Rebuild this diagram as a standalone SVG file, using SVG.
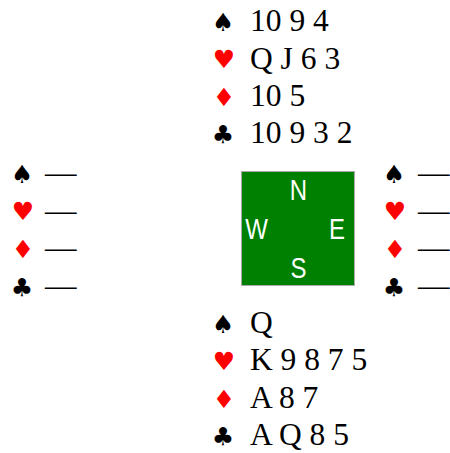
<svg xmlns="http://www.w3.org/2000/svg" width="450" height="453" viewBox="0 0 450 453">
<style>
.c{font-family:"Liberation Serif","Times New Roman",serif;font-size:31.5px;fill:#000}
.s{font-family:"DejaVu Sans",sans-serif;font-size:25px;text-anchor:middle}
.b{fill:#000}.r{fill:#f00}
.d{font-family:"Liberation Sans",Arial,sans-serif;font-size:24px;fill:#fff;text-anchor:middle}
</style>
<rect width="450" height="453" fill="#fff"/>
<g id="north">
<text class="s b" x="223" y="31">♠</text><text class="c" x="250" y="31">10 9 4</text>
<text class="s r" x="224" y="68">♥</text><text class="c" x="250" y="68.5">Q J 6 3</text>
<text class="s r" x="224" y="106">♦</text><text class="c" x="250" y="106">10 5</text>
<text class="s b" x="223" y="143">♣</text><text class="c" x="250" y="143">10 9 3 2</text>
</g>
<g id="west">
<text class="s b" x="22" y="183">♠</text><text class="c" x="45" y="183">—</text>
<text class="s r" x="23" y="220">♥</text><text class="c" x="45" y="221">—</text>
<text class="s r" x="23" y="258">♦</text><text class="c" x="45" y="258">—</text>
<text class="s b" x="22" y="296">♣</text><text class="c" x="45" y="296">—</text>
</g>
<g id="east">
<text class="s b" x="394" y="183">♠</text><text class="c" x="418" y="183">—</text>
<text class="s r" x="395" y="220">♥</text><text class="c" x="418" y="221">—</text>
<text class="s r" x="395" y="258">♦</text><text class="c" x="418" y="258">—</text>
<text class="s b" x="394" y="296">♣</text><text class="c" x="418" y="296">—</text>
</g>
<g id="compass">
<rect x="241.5" y="171.5" width="113" height="114" fill="#008000" stroke="#aaa" stroke-width="1"/>
<text class="d" transform="translate(298.5,200.3) scale(1,1.22)">N</text>
<text class="d" transform="translate(256.5,238.7) scale(1,1.22)">W</text>
<text class="d" transform="translate(337,238.7) scale(1,1.22)">E</text>
<text class="d" transform="translate(298.5,278.3) scale(1,1.22)">S</text>
</g>
<g id="south">
<text class="s b" x="223" y="333">♠</text><text class="c" x="250" y="333">Q</text>
<text class="s r" x="224" y="370">♥</text><text class="c" x="250" y="370">K 9 8 7 5</text>
<text class="s r" x="224" y="408">♦</text><text class="c" x="250" y="408">A 8 7</text>
<text class="s b" x="223" y="445">♣</text><text class="c" x="250" y="445">A Q 8 5</text>
</g>
<g id="connectors"/>
</svg>
